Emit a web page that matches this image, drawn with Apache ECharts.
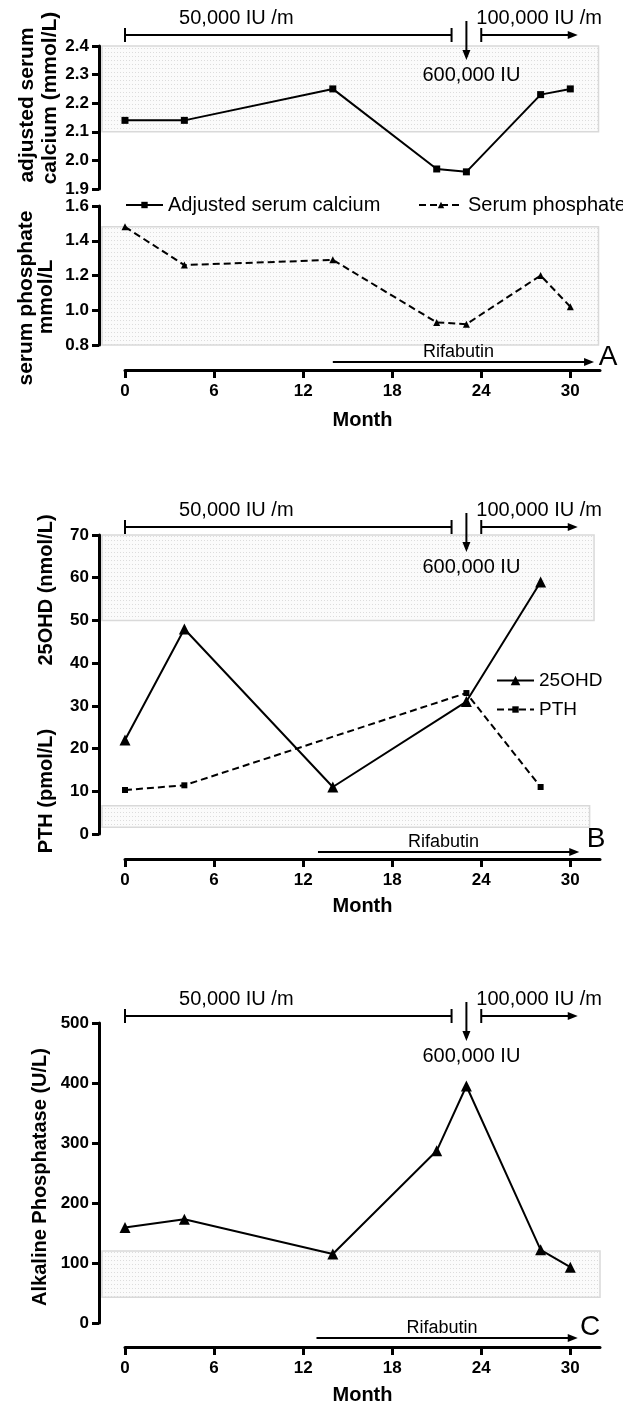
<!DOCTYPE html>
<html><head><meta charset="utf-8">
<script src="https://cdn.jsdelivr.net/npm/echarts@6/dist/echarts.min.js"></script>
<style>html,body{margin:0;padding:0;background:#fff}#c{width:623px;height:1408px}</style>
</head><body><div id="c"></div>
<script>
// ---- data ----
const monthsA = [0, 4, 14, 21, 23, 28, 30];
const calcium = [2.14, 2.14, 2.25, 1.97, 1.96, 2.23, 2.25];
const phosphate = [1.48, 1.26, 1.29, 0.93, 0.92, 1.20, 1.02];
const monthsOHD = [0, 4, 14, 23, 28];
const ohd = [22, 48, 11, 31, 59];
const monthsPTH = [0, 4, 23, 28];
const pth = [10.3, 11.4, 33, 11];
const monthsC = [0, 4, 14, 21, 23, 28, 30];
const alp = [159, 173, 115, 287, 395, 122, 93];
const xTicks = [0, 6, 12, 18, 24, 30];
// reference ranges
const calciumRange = [2.1, 2.4];
const phosphateRange = [0.8, 1.48];
const ohdRange = [50, 70];
const pthRange = [1.6, 6.6];
const alpRange = [43, 120];
// treatment periods (months)
const dose50k = [0, 22];
const bolusMonth = 23;
const dose100k = [24, 30.5];
const rifabutinA = [14, 31.6];
const rifabutinB = [13, 30.6];
const rifabutinC = [12.9, 30.5];

const FONT = '"Liberation Sans", Arial, sans-serif';
const chart = echarts.init(document.getElementById('c'), null, {renderer: 'canvas'});

const pat = document.createElement('canvas');
pat.width = 3; pat.height = 4;
const pg = pat.getContext('2d');
pg.fillStyle = '#fbfbfb'; pg.fillRect(0, 0, 3, 4);
pg.fillStyle = '#dcdcdc'; pg.fillRect(0, 0, 1, 1);
const bandStyle = {color: {image: pat, repeat: 'repeat'}, borderColor: '#d9d9d9', borderWidth: 1.5};
function band(r, x0, x1) {
  return [{xAxis: x0, yAxis: r[1]}, {xAxis: x1, yAxis: r[0]}];
}
const zip = (xs, ys) => xs.map((x, i) => [x, ys[i]]);

const XMIN = -1.75, XMAX = 32;
const dataX = g => ({gridIndex: g, type: 'value', min: XMIN, max: XMAX, show: false});
const visX = (g, gap) => ({
  gridIndex: g, type: 'value', min: 0, max: XMAX, interval: 6, position: 'bottom', z: 10,
  axisLine: {show: true, onZero: false, lineStyle: {color: '#000', width: 3}},
  axisTick: {show: true, length: 8, lineStyle: {color: '#000', width: 3}, customValues: xTicks},
  axisLabel: {color: '#000', fontFamily: FONT, fontWeight: 'bold', fontSize: 17, margin: 13, customValues: xTicks},
  splitLine: {show: false},
  name: 'Month', nameLocation: 'middle', nameGap: gap,
  nameTextStyle: {color: '#000', fontFamily: FONT, fontWeight: 'bold', fontSize: 20}
});
const hidY = g => ({gridIndex: g, type: 'value', show: false});
const visY = (g, min, max, interval, dec) => ({
  gridIndex: g, type: 'value', min, max, interval, z: 10,
  axisLine: {show: true, onZero: false, lineStyle: {color: '#000', width: 3}},
  axisTick: {show: true, length: 7, lineStyle: {color: '#000', width: 3}},
  axisLabel: {color: '#000', fontFamily: FONT, fontWeight: 'bold', fontSize: 17, margin: 10,
    formatter: v => v.toFixed(dec)},
  splitLine: {show: false}
});
const legendText = {color: '#000', fontFamily: FONT, fontSize: 20};
const legendTextB = {color: '#000', fontFamily: FONT, fontSize: 19};
const G = (top, height, left) => ({left: left || 99, right: 23, top, height, containLabel: false, outerBoundsMode: 'none'});

chart.setOption({
  animation: false,
  backgroundColor: '#fff',
  grid: [G(46, 143), G(206, 139), G(360, 10, 125), G(535, 299), G(849, 10, 125), G(1023, 300), G(1337, 10, 125)],
  xAxis: [dataX(0), dataX(1), visX(2, 40), dataX(3), visX(4, 37), dataX(5), visX(6, 38)],
  yAxis: [visY(0, 1.9, 2.4, 0.1, 1), visY(1, 0.8, 1.6, 0.2, 1), hidY(2),
          visY(3, 0, 70, 10, 0), hidY(4), visY(5, 0, 500, 100, 0), hidY(6)],
  legend: [
    {data: ['Adjusted serum calcium'], left: 125, top: 195, padding: 0, itemWidth: 37, itemHeight: 8, selectedMode: false, textStyle: legendText},
    {data: ['Serum phosphate'], left: 418, top: 195, padding: 0, itemWidth: 44, itemHeight: 8, selectedMode: false, textStyle: legendText},
    {data: ['25OHD'], left: 496, top: 671, padding: 0, itemWidth: 37, itemHeight: 12, selectedMode: false, textStyle: legendTextB},
    {data: ['PTH'], left: 496, top: 700, padding: 0, itemWidth: 37, itemHeight: 8, selectedMode: false, textStyle: legendTextB}
  ],
  series: [
    {name: 'Adjusted serum calcium', type: 'line', xAxisIndex: 0, yAxisIndex: 0, data: zip(monthsA, calcium),
     symbol: 'rect', symbolSize: 7, lineStyle: {color: '#000', width: 2}, itemStyle: {color: '#000'}, z: 5,
     markArea: {silent: true, itemStyle: bandStyle, data: [band(calciumRange, -1.55, 31.9)]}},
    {name: 'Serum phosphate', type: 'line', xAxisIndex: 1, yAxisIndex: 1, data: zip(monthsA, phosphate),
     symbol: 'triangle', symbolSize: 7, lineStyle: {color: '#000', width: 2, type: [7, 4]}, itemStyle: {color: '#000'}, z: 5,
     markArea: {silent: true, itemStyle: bandStyle, data: [band(phosphateRange, -1.55, 31.9)]}},
    {name: '25OHD', type: 'line', xAxisIndex: 3, yAxisIndex: 3, data: zip(monthsOHD, ohd),
     symbol: 'triangle', symbolSize: 11, lineStyle: {color: '#000', width: 2}, itemStyle: {color: '#000'}, z: 5,
     markArea: {silent: true, itemStyle: bandStyle, data: [band(ohdRange, -1.55, 31.6), band(pthRange, -1.55, 31.3)]}},
    {name: 'PTH', type: 'line', xAxisIndex: 3, yAxisIndex: 3, data: zip(monthsPTH, pth),
     symbol: 'rect', symbolSize: 6, lineStyle: {color: '#000', width: 2, type: [7, 4]}, itemStyle: {color: '#000'}, z: 5},
    {name: 'Alkaline Phosphatase', type: 'line', xAxisIndex: 5, yAxisIndex: 5, data: zip(monthsC, alp),
     symbol: 'triangle', symbolSize: 11, lineStyle: {color: '#000', width: 2}, itemStyle: {color: '#000'}, z: 5,
     markArea: {silent: true, itemStyle: bandStyle, data: [band(alpRange, -1.55, 32.2)]}}
  ]
});

// ---- annotations (x positions derived from the month axes) ----
const els = [];
const stroke = {stroke: '#000', lineWidth: 2};
function line(x1, y1, x2, y2) { els.push({type: 'line', shape: {x1, y1, x2, y2}, style: stroke, z: 10}); }
function arrowR(x, y) { els.push({type: 'polygon', shape: {points: [[x, y], [x - 10, y - 4], [x - 10, y + 4]]}, style: {fill: '#000'}, z: 10}); }
function arrowD(x, y) { els.push({type: 'polygon', shape: {points: [[x, y], [x - 4, y - 10], [x + 4, y - 10]]}, style: {fill: '#000'}, z: 10}); }
function text(t, x, y, size, opts) {
  opts = opts || {};
  els.push({type: 'text', x, y, rotation: opts.rot || 0, z: 10,
    style: {text: t, fill: '#000', font: (opts.bold ? 'bold ' : '') + size + 'px ' + FONT,
      align: opts.align || 'center', verticalAlign: opts.va || 'middle',
      textAlign: opts.align || 'center', textVerticalAlign: opts.va || 'middle'}});
}
function panel(axisIdx, base, rif, rifY, letter, lx, ly) {
  const px = m => chart.convertToPixel({xAxisIndex: axisIdx}, m);
  const a = px(dose50k[0]), b = px(dose50k[1]);
  line(a, base, b, base); line(a, base - 7, a, base + 7); line(b, base - 7, b, base + 7);
  text('50,000 IU /m', px(7.5), base - 17, 20);
  const c = px(bolusMonth);
  line(c, base - 14, c, base + 22); arrowD(c, base + 25);
  text('600,000 IU', c + 5, base + 40, 20);
  const d = px(dose100k[0]), e = px(dose100k[1]);
  line(d, base - 7, d, base + 7); line(d, base, e - 6, base); arrowR(e, base);
  text('100,000 IU /m', px(27.9), base - 17, 20);
  const r0 = px(rif[0]), r1 = px(rif[1]);
  line(r0, rifY, r1 - 6, rifY); arrowR(r1, rifY);
  text('Rifabutin', (r0 + r1) / 2 - 5, rifY - 1, 18, {va: 'bottom'});
  text(letter, lx, ly, 28);
}
panel(2, 35, rifabutinA, 362, 'A', 608, 357);
panel(4, 527, rifabutinB, 852, 'B', 596, 839);
panel(6, 1016, rifabutinC, 1338, 'C', 590, 1327);

// y-axis titles (rotated 90deg)
const ROT = Math.PI / 2;
text('adjusted serum', 27, 105, 21, {bold: true, rot: ROT});
text('calcium (mmol/L)', 50, 98, 21, {bold: true, rot: ROT});
text('serum phosphate', 26, 298, 21, {bold: true, rot: ROT});
text('mmol/L', 46, 297, 21, {bold: true, rot: ROT});
text('25OHD (nmol/L)', 46, 590, 20, {bold: true, rot: ROT});
text('PTH (pmol/L)', 46, 791, 20, {bold: true, rot: ROT});
text('Alkaline Phosphatase (U/L)', 40, 1177, 20, {bold: true, rot: ROT});

chart.setOption({graphic: els});
</script></body></html>
